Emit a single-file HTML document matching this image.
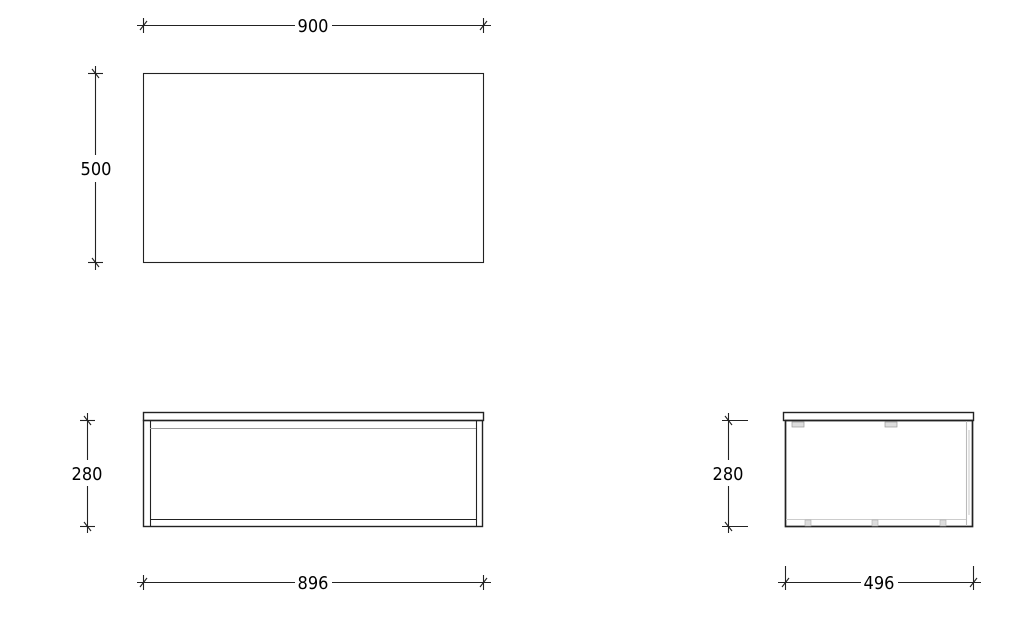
<!DOCTYPE html>
<html><head><meta charset="utf-8"><style>
html,body{margin:0;padding:0;background:#fff;width:1036px;height:644px;overflow:hidden}
svg{display:block}
text{font-family:"DejaVu Sans Condensed","Liberation Sans",sans-serif;font-size:18px;fill:#000}
</style></head><body>
<svg width="1036" height="644" viewBox="0 0 1036 644" xmlns="http://www.w3.org/2000/svg">
<g stroke="#222" stroke-width="1.1" fill="none">
<rect x="143.5" y="73.5" width="340" height="189"/>
<line x1="137" y1="25.5" x2="295" y2="25.5"/>
<line x1="332" y1="25.5" x2="491" y2="25.5"/>
<line x1="143.5" y1="18" x2="143.5" y2="33"/><line x1="140" y1="30" x2="147" y2="21"/>
<line x1="483.5" y1="18" x2="483.5" y2="33"/><line x1="480" y1="30" x2="487" y2="21"/>
<line x1="95.5" y1="66" x2="95.5" y2="155"/>
<line x1="95.5" y1="182" x2="95.5" y2="270"/>
<line x1="88" y1="73.5" x2="103" y2="73.5"/><line x1="92" y1="69" x2="99" y2="78"/>
<line x1="88" y1="262.5" x2="103" y2="262.5"/><line x1="92" y1="258" x2="99" y2="267"/>

<rect x="143.5" y="412.5" width="340" height="8" stroke-width="1.4"/>
<rect x="143.5" y="420.5" width="339" height="106" stroke-width="1.4"/>
<line x1="150.5" y1="421" x2="150.5" y2="526"/>
<line x1="476.5" y1="421" x2="476.5" y2="526"/>
<line x1="150" y1="428.5" x2="476" y2="428.5" stroke="#999"/>
<line x1="150" y1="519.5" x2="476" y2="519.5"/>
<line x1="87.5" y1="413" x2="87.5" y2="460"/>
<line x1="87.5" y1="486" x2="87.5" y2="533"/>
<line x1="80" y1="420.5" x2="95" y2="420.5"/><line x1="84" y1="416" x2="91" y2="425"/>
<line x1="80" y1="526.5" x2="95" y2="526.5"/><line x1="84" y1="522" x2="91" y2="531"/>
<line x1="137" y1="582.5" x2="295" y2="582.5"/>
<line x1="332" y1="582.5" x2="491" y2="582.5"/>
<line x1="143.5" y1="575" x2="143.5" y2="590"/><line x1="140" y1="587" x2="147" y2="578"/>
<line x1="483.5" y1="575" x2="483.5" y2="590"/><line x1="480" y1="587" x2="487" y2="578"/>

<rect x="783.5" y="412.5" width="190" height="8" stroke-width="1.4"/>
<rect x="785.5" y="420.5" width="187" height="106" stroke-width="1.7"/>
<line x1="966.5" y1="421" x2="966.5" y2="526" stroke="#bbb"/>
<line x1="786" y1="519.5" x2="966" y2="519.5" stroke="#ccc"/>
<line x1="969" y1="430" x2="969" y2="515" stroke="#ccc"/>
<rect x="792" y="422" width="12" height="5" fill="#ddd" stroke="#999" stroke-width="0.7"/>
<rect x="885" y="422" width="12" height="5" fill="#ddd" stroke="#999" stroke-width="0.7"/>
<rect x="805" y="520" width="6" height="6" fill="#ddd" stroke="#aaa" stroke-width="0.6"/>
<rect x="872" y="520" width="6" height="6" fill="#ddd" stroke="#aaa" stroke-width="0.6"/>
<rect x="940" y="520" width="6" height="6" fill="#ddd" stroke="#aaa" stroke-width="0.6"/>
<line x1="728.5" y1="413" x2="728.5" y2="460"/>
<line x1="728.5" y1="486" x2="728.5" y2="533"/>
<line x1="722" y1="420.5" x2="748" y2="420.5"/><line x1="725" y1="416" x2="732" y2="425"/>
<line x1="722" y1="526.5" x2="748" y2="526.5"/><line x1="725" y1="522" x2="732" y2="531"/>
<line x1="778" y1="582.5" x2="861" y2="582.5"/>
<line x1="898" y1="582.5" x2="981" y2="582.5"/>
<line x1="785.5" y1="566" x2="785.5" y2="590"/><line x1="782" y1="587" x2="789" y2="578"/>
<line x1="973.5" y1="566" x2="973.5" y2="590"/><line x1="970" y1="587" x2="977" y2="578"/>
</g>
<text x="313" y="32" text-anchor="middle">900</text>
<text x="96" y="175" text-anchor="middle">500</text>
<text x="87" y="480" text-anchor="middle">280</text>
<text x="313" y="589" text-anchor="middle">896</text>
<text x="728" y="480" text-anchor="middle">280</text>
<text x="879" y="589" text-anchor="middle">496</text>
</svg>
</body></html>
